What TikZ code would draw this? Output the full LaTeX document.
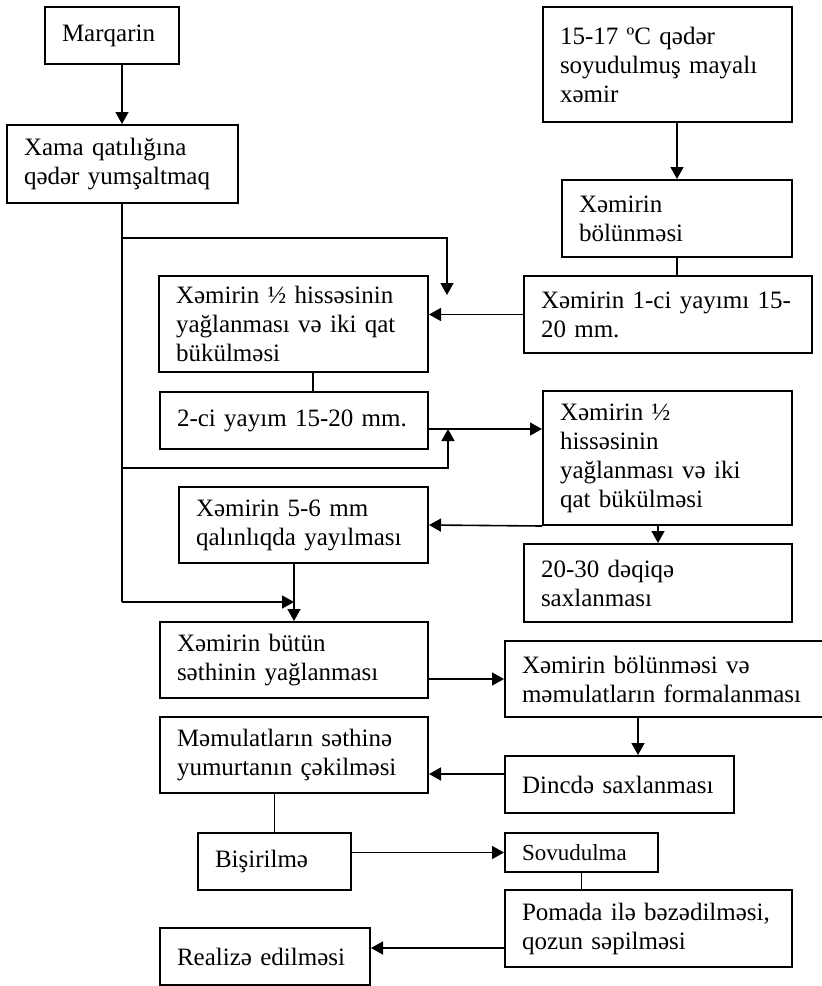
\documentclass[tikz,border=0pt]{standalone}
\usepackage{fontspec}
\setmainfont{Liberation Serif}
\usetikzlibrary{arrows.meta}
\newcommand{\Lx}[1]{\mbox{#1}}
\begin{document}
\begin{tikzpicture}[x=1pt,y=-1pt,
  box/.style={draw, line width=2pt, rectangle, inner xsep=17pt, inner ysep=0pt,
    align=left, font=\fontsize{25}{29}\selectfont, anchor=center},
  ln/.style={line width=1.6pt},
  arr/.style={line width=1.6pt, -{Triangle[length=12pt,width=13pt]}}]
\useasboundingbox (0,0) rectangle (822,986);
% boxes
\node[box, text width=100pt, minimum height=57pt]  (A) at (112,35.5)   {\Lx{Marqarin}};
\node[box, text width=197pt, minimum height=78pt]  (B) at (122.5,164)  {\Lx{Xama qatılığına}\\\Lx{qədər yumşaltmaq}};
\node[box, text width=215pt, minimum height=115pt] (C) at (667.5,64.5) {\Lx{15-17 ºC qədər}\\\Lx{soyudulmuş mayalı}\\\Lx{xəmir}};
\node[box, text width=196pt, minimum height=77pt]  (D) at (677,218.5)  {\Lx{Xəmirin}\\\Lx{bölünməsi}};
\node[box, text width=254pt, minimum height=77pt]  (E) at (668,314.5)  {\Lx{Xəmirin 1-ci yayımı 15-}\\\Lx{20 mm.}};
\node[box, text width=235pt, minimum height=96pt]  (F) at (293.5,324)  {\Lx{Xəmirin ½ hissəsinin}\\\Lx{yağlanması və iki qat}\\\Lx{bükülməsi}};
\node[box, text width=234pt, minimum height=57pt]  (G) at (294,420.5)  {\Lx{2-ci yayım 15-20 mm.}};
\node[box, text width=215pt, minimum height=134pt] (H) at (667.5,458)  {\Lx{Xəmirin ½}\\\Lx{hissəsinin}\\\Lx{yağlanması və iki}\\\Lx{qat bükülməsi}};
\node[box, text width=215pt, minimum height=76pt]  (I) at (303.5,525)  {\Lx{Xəmirin 5-6 mm}\\\Lx{qalınlıqda yayılması}};
\node[box, text width=234pt, minimum height=78pt]  (J) at (658,583)    {\Lx{20-30 dəqiqə}\\\Lx{saxlanması}};
\node[box, text width=234pt, minimum height=76pt]  (K) at (294,660)    {\Lx{Xəmirin bütün}\\\Lx{səthinin yağlanması}};
\node[box, text width=287pt, minimum height=76pt]  (L) at (665.5,679)  {\Lx{Xəmirin bölünməsi və}\\\Lx{məmulatların formalanması}};
\node[box, text width=195pt, minimum height=57pt]  (M) at (619.5,784.5) {\Lx{Dincdə saxlanması}};
\node[box, text width=234pt, minimum height=76pt]  (N) at (294,755)    {\Lx{Məmulatların səthinə}\\\Lx{yumurtanın çəkilməsi}};
\node[box, text width=119pt, minimum height=57pt]  (O) at (274.5,861.5) {\Lx{Bişirilmə}};
\node[box, text width=119pt, minimum height=39pt, font=\fontsize{23}{27}\selectfont] (P) at (581.5,852.5) {\Lx{Sovudulma}};
\node[box, text width=253pt, minimum height=77pt]  (Q) at (648.5,928.5) {\Lx{Pomada ilə bəzədilməsi,}\\\Lx{qozun səpilməsi}};
\node[box, text width=176pt, minimum height=57pt]  (R) at (265,956.5)  {\Lx{Realizə edilməsi}};
% helper coordinates
\coordinate (tx) at (122,0);
\coordinate (b1) at (447,238);
\coordinate (b1e) at (447,295);
\coordinate (b2) at (448,468);
\coordinate (gy) at (0,429);
\coordinate (t3) at (122,602);
\coordinate (fx) at (313,0);
\coordinate (lx) at (638,0);
\coordinate (my) at (0,774);
\coordinate (qy) at (0,948);
% connectors
\draw[arr] (A.south -| tx) -- (B.north -| tx);
\draw[ln] (B.south -| tx) -- (t3);
\draw[arr] (tx |- b1) -- (b1) -- (b1e);
\draw[arr] (tx |- b2) -- (b2) -- (b2 |- gy);
\draw[arr] (t3) -- (K.north |- t3);
\draw[arr] (C.south -| D.north) -- (D.north);
\draw[ln] (D.south) -- (D.south |- E.north);
\draw[arr] (E.west) -- (F.east |- E.west);
\draw[ln] (F.south -| fx) -- (G.north -| fx);
\draw[arr] (G.east |- gy) -- (H.west |- gy);
\draw[arr] (H.south west) -- (I.east);
\draw[arr] (J.north |- H.south) -- (J.north);
\draw[arr] (K.north |- I.south) -- (K.north);
\draw[arr] (K.east |- L.west) -- (L.west);
\draw[arr] (L.south -| lx) -- (M.north -| lx);
\draw[arr] (M.west |- my) -- (N.east |- my);
\draw[ln] (O.north |- N.south) -- (O.north);
\draw[arr] (O.east |- P.west) -- (P.west);
\draw[ln] (P.south) -- (P.south |- Q.north);
\draw[arr] (Q.west |- qy) -- (R.east |- qy);
\end{tikzpicture}
\end{document}
